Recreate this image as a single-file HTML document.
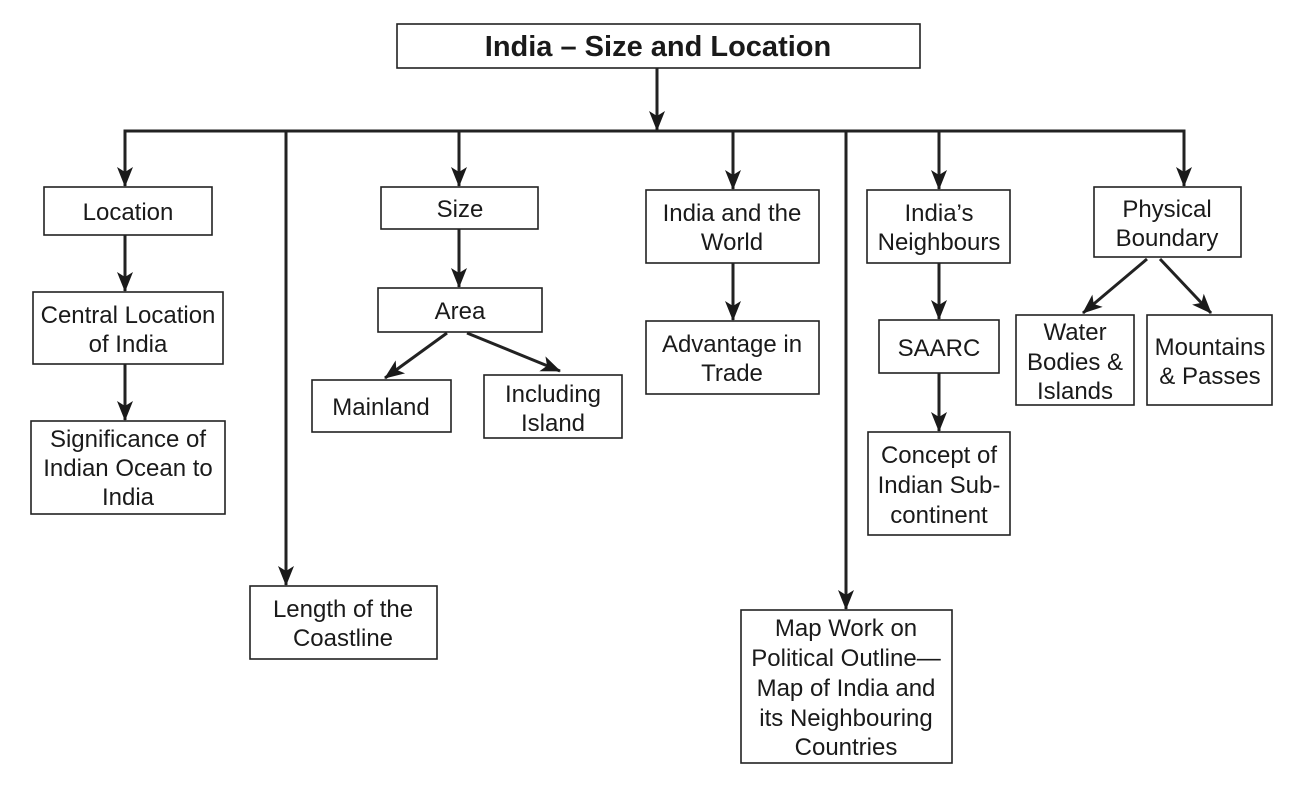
<!DOCTYPE html>
<html><head><style>
body{margin:0;background:#fff}
svg text{font-family:"Liberation Sans",Arial,sans-serif;font-size:24px;fill:#1a1a1a;text-anchor:middle}
</style></head><body>
<svg width="1302" height="785" viewBox="0 0 1302 785" xmlns="http://www.w3.org/2000/svg">
<defs>
<marker id="b" markerWidth="20" markerHeight="20" refX="19" refY="10" orient="auto" markerUnits="userSpaceOnUse">
<path d="M0,2 L20,10 L0,18 L5,10 Z" fill="#1a1a1a"/>
</marker>
</defs>
<g fill="none" stroke="#222" stroke-width="1.6">
<rect x="397" y="24" width="523" height="44"/>
<rect x="44" y="187" width="168" height="48"/>
<rect x="33" y="292" width="190" height="72"/>
<rect x="31" y="421" width="194" height="93"/>
<rect x="250" y="586" width="187" height="73"/>
<rect x="381" y="187" width="157" height="42"/>
<rect x="378" y="288" width="164" height="44"/>
<rect x="312" y="380" width="139" height="52"/>
<rect x="484" y="375" width="138" height="63"/>
<rect x="646" y="190" width="173" height="73"/>
<rect x="646" y="321" width="173" height="73"/>
<rect x="741" y="610" width="211" height="153"/>
<rect x="867" y="190" width="143" height="73"/>
<rect x="879" y="320" width="120" height="53"/>
<rect x="868" y="432" width="142" height="103"/>
<rect x="1094" y="187" width="147" height="70"/>
<rect x="1016" y="315" width="118" height="90"/>
<rect x="1147" y="315" width="125" height="90"/>
</g>
<g fill="none" stroke="#222" stroke-width="3">
<line x1="123.5" y1="131" x2="1185.5" y2="131"/>
<line x1="125" y1="131" x2="125" y2="186" marker-end="url(#b)"/>
<line x1="286" y1="131" x2="286" y2="585" marker-end="url(#b)"/>
<line x1="459" y1="131" x2="459" y2="186" marker-end="url(#b)"/>
<line x1="733" y1="131" x2="733" y2="189" marker-end="url(#b)"/>
<line x1="846" y1="131" x2="846" y2="609" marker-end="url(#b)"/>
<line x1="939" y1="131" x2="939" y2="189" marker-end="url(#b)"/>
<line x1="1184" y1="131" x2="1184" y2="186" marker-end="url(#b)"/>
<line x1="657" y1="68" x2="657" y2="130" marker-end="url(#b)"/>
<line x1="125" y1="235" x2="125" y2="291" marker-end="url(#b)"/>
<line x1="125" y1="364" x2="125" y2="420" marker-end="url(#b)"/>
<line x1="459" y1="229" x2="459" y2="287" marker-end="url(#b)"/>
<line x1="447" y1="333" x2="385" y2="378" marker-end="url(#b)"/>
<line x1="467" y1="333" x2="560" y2="371" marker-end="url(#b)"/>
<line x1="733" y1="263" x2="733" y2="320" marker-end="url(#b)"/>
<line x1="939" y1="263" x2="939" y2="319" marker-end="url(#b)"/>
<line x1="939" y1="373" x2="939" y2="431" marker-end="url(#b)"/>
<line x1="1147" y1="259" x2="1083" y2="313" marker-end="url(#b)"/>
<line x1="1160" y1="259" x2="1211" y2="313" marker-end="url(#b)"/>
</g>
<text x="658" y="56" style="font-size:29px;font-weight:bold">India – Size and Location</text>
<text x="128" y="220">Location</text>
<text x="128" y="323">Central Location</text><text x="128" y="352">of India</text>
<text x="128" y="447">Significance of</text><text x="128" y="476">Indian Ocean to</text><text x="128" y="505">India</text>
<text x="343" y="617">Length of the</text><text x="343" y="646">Coastline</text>
<text x="460" y="217">Size</text>
<text x="460" y="319">Area</text>
<text x="381" y="415">Mainland</text>
<text x="553" y="402">Including</text><text x="553" y="431">Island</text>
<text x="732" y="221">India and the</text><text x="732" y="250">World</text>
<text x="732" y="352">Advantage in</text><text x="732" y="381">Trade</text>
<text x="846" y="636">Map Work on</text><text x="846" y="666">Political Outline—</text><text x="846" y="696">Map of India and</text><text x="846" y="726">its Neighbouring</text><text x="846" y="755">Countries</text>
<text x="939" y="221">India’s</text><text x="939" y="250">Neighbours</text>
<text x="939" y="356">SAARC</text>
<text x="939" y="463">Concept of</text><text x="939" y="493">Indian Sub-</text><text x="939" y="523">continent</text>
<text x="1167" y="217">Physical</text><text x="1167" y="246">Boundary</text>
<text x="1075" y="340">Water</text><text x="1075" y="370">Bodies &amp;</text><text x="1075" y="399">Islands</text>
<text x="1210" y="355">Mountains</text><text x="1210" y="384">&amp; Passes</text>
</svg>
</body></html>
